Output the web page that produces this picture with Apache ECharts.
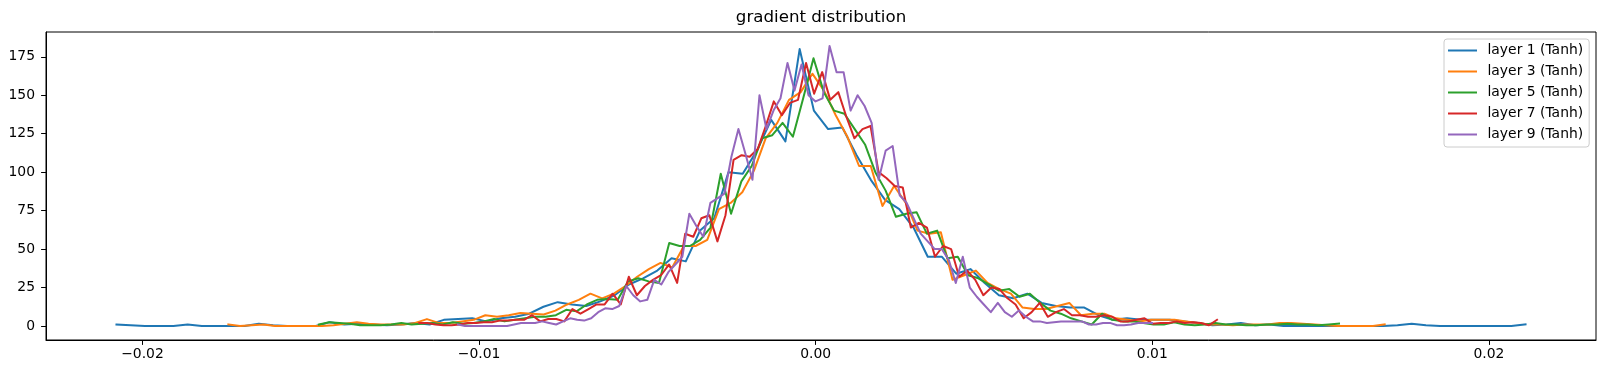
<!DOCTYPE html>
<html>
<head>
<meta charset="utf-8">
<script src="https://cdn.jsdelivr.net/npm/echarts@6/dist/echarts.min.js"></script>
<style>
html,body{margin:0;padding:0;background:#fff;}
#chart{width:1606px;height:374px;}
</style>
</head>
<body>
<div id="chart"></div>
<script>
// ---- data ----
var seriesNames = ['layer 1 (Tanh)', 'layer 3 (Tanh)', 'layer 5 (Tanh)', 'layer 7 (Tanh)', 'layer 9 (Tanh)'];
// histogram bin range (first and last left bin edge) of each layer, 100 bins each
var layer1Range = [-0.020772, 0.021089];
var layer3Range = [-0.017447, 0.016904];
var layer5Range = [-0.014758, 0.015548];
var layer7Range = [-0.011775, 0.011923];
var layer9Range = [-0.010626, 0.009994];

var layer1 = [1,0.5,0,0,0,1,0,0,0,0, 1.5,0.5,0,0,0,2.5,1,1.5,1,0.5,
  1,2,1,4,4.5,5,3,5,6,8, 12.5,15.5,14,13,16,20,27,31,36,44,
  42,62,70,100,99,114,134,120,180,140, 128,129,111,95,82,76,64,45,45,34,
  37,28,20,18,21,15,13,12,12,7, 4,5,4,4,4,3,2,0.5,1,2,
  0.5,1,0,0,0,0,0,0,0,0, 0.5,1.5,0.5,0,0,0,0,0,0,1];
var layer3 = [1,0,0.5,1,0,0,0,0,0,0.5, 1.5,2.5,1.5,1,1,1,2,4.5,2,2,
  3,4,7,6,7,8.5,8,7.5,10,14, 17,21,18,21,26,32,37,41,38,52,
  52,56,76,80,87,101,122,132,147,152, 164,153,137,123,104,104,78,91,80,62,
  60,61,30,33,36,28,24,21,12,11, 11,13,15,7,8,8,5,4,3,4,
  4,4,3,2,1,1,0.5,1,1,1, 2,2,1.5,1,0.5,0,0,0,0,1];
var layer5 = [1,2.5,2,1.5,0.5,0.5,0.5,1,2,1, 1.5,2,1,2.5,1.5,2,3,4.5,3,4,
  5,6,6,7,10.5,9.5,14,17,17.5,17, 29,31,29,28,54,52,52,56,64,99,
  73,94,104,122,124,132,123,148,174,152, 140,138,128,118,100,88,71,73,74,60,
  62,44,45,33,31,27,23,24,19,21, 15,10,8,5,3,1,8,4,3,3,
  2,1,1,2.5,1,0.5,1,2,1,1, 0.5,0.5,1,1,1.5,1,1,0.5,1,1.5];
var layer7 = [2,2,1,0.5,0.5,1,2,2,2.5,2.5, 3.5,3.5,4,4,7,3,4.5,4.5,3,11,
  8,11,14,14,21,14,32,20,26,30, 33,40,28,60,58,70,72,55,72,108,
  111,110,115,130,146,137,145,147,171,151, 165,147,152,136,122,128,130,100,96,91,
  90,64,67,64,45,52,50,32,36,30, 20,25,24,18,14,5,9,15,6,9,
  11,7,7,6,6,7,6,3,3,4, 5,1.5,2,2,3,2,2.5,2,0.5,4];
var layer9 = [1,0,0,0,0,0,0,0,1,2, 2,2,3,2,1,3,5,4,3.5,5,
  9,11.5,11,13,26,20,16,17,30,27, 35,40,45,73,65,58,80,83,86,110,
  128,112,95,150,128,140,148,171,153,170, 150,146,148,182,165,165,140,150,143,132,
  95,114,117,85,80,70,60,55,50,50, 43,28,45,25,19,14,9,15,9,6,
  10,6,3,3,2,2.5,3,3,3,3, 1,1,2,2,0.5,0.5,1,2,2,2];

var xTicks = [-0.02, -0.01, 0.00, 0.01, 0.02];
var yTicks = [0, 25, 50, 75, 100, 125, 150, 175];

var colors = ['#1f77b4', '#ff7f0e', '#2ca02c', '#d62728', '#9467bd'];

// ---- build ----
function pairs(range, vals) {
  var n = vals.length, step = (range[1] - range[0]) / (n - 1);
  return vals.map(function (v, i) { return [range[0] + i * step, v]; });
}
var ranges = [layer1Range, layer3Range, layer5Range, layer7Range, layer9Range];
var values = [layer1, layer3, layer5, layer7, layer9];

var FONT = 'DejaVu Sans';
var FS = 13.9;
var series = seriesNames.map(function (name, k) {
  return {
    name: name, type: 'line', data: pairs(ranges[k], values[k]),
    showSymbol: false, symbol: 'none',
    lineStyle: { width: 2, color: colors[k], join: 'round', cap: 'square' },
    itemStyle: { color: colors[k] },
    emphasis: { disabled: true }, z: 2 + k
  };
});

function fmt(v) {
  var s = Math.abs(v).toFixed(2);
  return (v < -1e-12 ? '\u2212' : '') + s;
}

var chart = echarts.init(document.getElementById('chart'), null, { renderer: 'canvas' });
chart.setOption({
  animation: false,
  backgroundColor: '#ffffff',
  color: colors,
  title: {
    text: 'gradient distribution', left: 821, top: 9, padding: 0, textAlign: 'center',
    textStyle: { fontFamily: FONT, fontSize: 16.67, fontWeight: 'normal', color: '#000' }
  },
  legend: {
    orient: 'vertical', left: 1444, top: 39,
    padding: [4, 6, 5, 4], itemGap: 6, itemWidth: 29, itemHeight: 2,
    icon: 'rect',
    backgroundColor: 'rgba(255,255,255,0.8)', borderColor: '#cccccc', borderWidth: 1, borderRadius: 3,
    formatter: function (name) { return '{g|}' + name; },
    textStyle: { fontFamily: FONT, fontSize: FS, color: '#000', lineHeight: 15,
                 rich: { g: { width: 5.5, height: 15 } } },
    data: seriesNames
  },
  grid: { left: 46, right: 10, top: 32, bottom: 34, containLabel: false, outerBoundsMode: 'none',
          show: true, borderColor: '#000', borderWidth: 1, backgroundColor: 'transparent' },
  xAxis: {
    type: 'value', min: -0.022865, max: 0.023182,
    axisLine: { show: true, onZero: false, lineStyle: { color: '#000', width: 1 } },
    axisTick: { show: true, length: 4.9, lineStyle: { color: '#000', width: 1 }, customValues: xTicks },
    axisLabel: { customValues: xTicks, formatter: fmt, margin: 7.5, color: '#000', fontFamily: FONT, fontSize: FS },
    splitLine: { show: false }
  },
  yAxis: {
    type: 'value', min: -9.1, max: 191.1,
    axisLine: { show: true, onZero: false, lineStyle: { color: '#000', width: 1 } },
    axisTick: { show: true, length: 4.9, lineStyle: { color: '#000', width: 1 }, customValues: yTicks },
    axisLabel: { customValues: yTicks, margin: 11, color: '#000', fontFamily: FONT, fontSize: FS,
                 formatter: function (v) { return String(v); } },
    splitLine: { show: false }
  },
  series: series
});
</script>
</body>
</html>
